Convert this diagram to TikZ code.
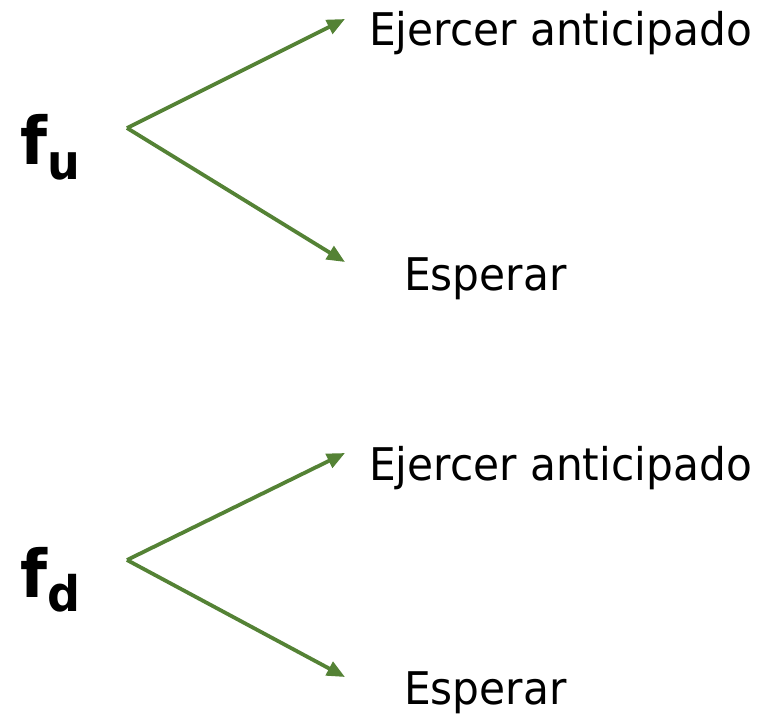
\documentclass[tikz,border=0pt]{standalone}
\usepackage{fontspec}
\setmainfont{DejaVu Sans}[FakeStretch=0.94]
\usetikzlibrary{arrows.meta}
\definecolor{arrgreen}{RGB}{84,130,53}
\tikzset{
  branch/.style={draw=arrgreen, line width=3.8pt, -{Triangle[length=18pt,width=15pt]}},
  choice/.style={anchor=base west, inner sep=0pt, font=\fontsize{45}{45}\selectfont},
  state/.style={anchor=base west, inner sep=0pt, font=\fontsize{66}{66}\selectfont\bfseries}
}
\begin{document}
\begin{tikzpicture}[x=1pt,y=-1pt]
\useasboundingbox (0,0) rectangle (777,713);
% upper group
\node[state] (fu) at (20,164) {f\raisebox{-15pt}{\fontsize{49}{49}\selectfont\bfseries u}};
\coordinate (au) at (127,128);
\coordinate (tu1) at (345,19);
\coordinate (tu2) at (345,262);
\node[choice] (eu) at (369,45) {Ejercer anticipado};
\node[choice] (su) at (404,290) {Esperar};
\draw[branch] (au) -- (tu1);
\draw[branch] (au) -- (tu2);
% lower group
\node[state] (fd) at (20,597) {f\raisebox{-14pt}{\fontsize{49}{49}\selectfont\bfseries d}};
\coordinate (ad) at (127,560);
\coordinate (td1) at (345,453);
\coordinate (td2) at (345,677);
\node[choice] (ed) at (369,480) {Ejercer anticipado};
\node[choice] (sd) at (404,704) {Esperar};
\draw[branch] (ad) -- (td1);
\draw[branch] (ad) -- (td2);
\end{tikzpicture}
\end{document}
